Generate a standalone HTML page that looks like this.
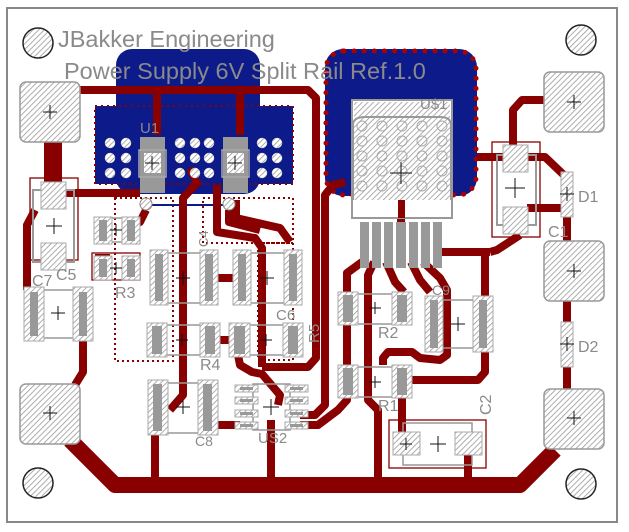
<!DOCTYPE html>
<html><head><meta charset="utf-8"><style>
html,body{margin:0;padding:0;background:#fff}
svg{display:block}
text{font-family:"Liberation Sans",sans-serif;fill:#8a8a8a}
</style></head><body>
<svg width="629" height="532" viewBox="0 0 629 532" xmlns="http://www.w3.org/2000/svg">
<defs>
<pattern id="h" width="4" height="4" patternUnits="userSpaceOnUse" patternTransform="rotate(45)">
<rect width="4" height="4" fill="#fff"/><line x1="0" y1="0" x2="0" y2="4" stroke="#999" stroke-width="1.6"/>
</pattern>
</defs>
<rect width="629" height="532" fill="#fff"/>
<rect x="7" y="8" width="610" height="514" fill="#fff" stroke="#888" stroke-width="2"/>

<g fill="#0c1a8a">
<rect x="116" y="49" width="144" height="145" rx="16"/>
<rect x="95" y="106" width="198" height="78"/>
<rect x="325" y="49" width="152" height="147" rx="18"/>
</g>
<rect x="95" y="106" width="198" height="78" fill="none" stroke="#800" stroke-width="2" stroke-dasharray="2 4"/>
<rect x="326" y="51" width="150" height="144" rx="18" fill="none" stroke="#a00" stroke-width="5" stroke-dasharray="0.1 10" stroke-linecap="round"/>

<g fill="none" stroke="#800" stroke-width="2" stroke-dasharray="2 3">
<rect x="115" y="198" width="58" height="163"/>
<rect x="203" y="198" width="90" height="45"/>
<rect x="258" y="243" width="35" height="117"/>
</g>
<line x1="150" y1="205" x2="230" y2="205" stroke="#0c1a8a" stroke-width="2"/>

<g fill="none" stroke="#800" stroke-width="8" stroke-linejoin="round">
<polyline points="80,90 308,90 316,98 316,358 308,367 262,367"/>
<line x1="157" y1="90" x2="157" y2="135"/>
<line x1="240" y1="90" x2="240" y2="135"/>
<polyline points="65,193 140,193"/>
<polyline points="35,210 27,225 27,290"/>
<polyline points="190,168 197,183 183,198 183,395 170,410"/>
<polyline points="217,185 217,232 255,238 262,248 262,367"/>
<polyline points="80,310 83,340 83,372 75,385"/>
<line x1="155" y1="435" x2="155" y2="485"/>
<line x1="271" y1="420" x2="271" y2="485"/>
<line x1="468" y1="455" x2="468" y2="485"/>
<line x1="218" y1="278" x2="233" y2="278"/>
<line x1="220" y1="340" x2="229" y2="340"/>
<polyline points="238,355 240,365 252,372 262,374 280,395 278,405"/>
<line x1="218" y1="425" x2="240" y2="425"/>
<polyline points="345,182 333,185 325,195 325,405 315,415 300,415"/>
<polyline points="362,262 347,273 347,400 338,410 318,425 300,425"/>
<polyline points="374,262 368,275 368,400 378,410 378,485"/>
<polyline points="386,262 395,282 404,292"/>
<polyline points="411,262 420,280 430,292"/>
<polyline points="423,262 440,278 447,290 447,355 440,360 420,358 412,352 388,352 383,358 383,365"/>
<polyline points="440,252 490,252"/>
<polyline points="485,252 485,372 478,380 412,380"/>
<polyline points="490,252 497,250 520,235"/>
<line x1="402" y1="398" x2="402" y2="440"/>
<polyline points="401,200 401,222"/>
<polyline points="544,100 522,100 513,110 513,145"/>
<polyline points="477,157 545,157 567,178"/>
<polyline points="527,208 565,208"/>
<line x1="567" y1="217" x2="567" y2="243"/>
<line x1="567" y1="301" x2="567" y2="389"/>
<polyline points="123,230 140,222 146,210"/>
<polyline points="95,258 110,258"/>
<polyline points="229,210 229,222 260,230"/>
<polyline points="236,200 236,218 280,228 290,242"/>
</g>
<polyline points="70,440 115,485 520,485 555,450" fill="none" stroke="#800" stroke-width="16" stroke-linejoin="round"/>
<rect x="44" y="140" width="18" height="42" fill="#800"/>

<g fill="url(#h)" stroke="#999" stroke-width="1.5">
<rect x="20" y="82" width="60" height="60" rx="6"/>
<rect x="544" y="72" width="60" height="60" rx="6"/>
<rect x="544" y="241" width="60" height="60" rx="6"/>
<rect x="544" y="389" width="60" height="60" rx="6"/>
<rect x="20" y="384" width="60" height="60" rx="6"/>
</g>
<g fill="url(#h)" stroke="#222" stroke-width="1.5">
<circle cx="38" cy="43" r="15"/><circle cx="581" cy="40" r="15"/>
<circle cx="38" cy="483" r="15"/><circle cx="581" cy="484" r="15"/>
</g>

<g fill="url(#h)" stroke="#ccc" stroke-width="0.5">
<circle cx="110" cy="143" r="5"/><circle cx="126" cy="143" r="5"/><circle cx="110" cy="158" r="5"/><circle cx="126" cy="158" r="5"/><circle cx="110" cy="173" r="5"/><circle cx="126" cy="173" r="5"/>
<circle cx="180" cy="143" r="5"/><circle cx="195" cy="143" r="5"/><circle cx="209" cy="143" r="5"/><circle cx="180" cy="158" r="5"/><circle cx="195" cy="158" r="5"/><circle cx="209" cy="158" r="5"/><circle cx="180" cy="173" r="5"/><circle cx="195" cy="173" r="5"/><circle cx="209" cy="173" r="5"/>
<circle cx="262" cy="143" r="5"/><circle cx="277" cy="143" r="5"/><circle cx="262" cy="158" r="5"/><circle cx="277" cy="158" r="5"/><circle cx="262" cy="173" r="5"/><circle cx="277" cy="173" r="5"/>
</g>
<g fill="url(#h)" stroke="#888" stroke-width="1"><circle cx="146" cy="204" r="6"/><circle cx="229" cy="204" r="6"/></g>

<g>
<rect x="140" y="137" width="25" height="56" fill="#999"/>
<rect x="139" y="150" width="27" height="27" fill="none" stroke="#aaa" stroke-width="1.5"/>
<rect x="144" y="153" width="17" height="20" fill="url(#h)"/>
<rect x="223" y="137" width="25" height="56" fill="#999"/>
<rect x="222" y="150" width="27" height="27" fill="none" stroke="#aaa" stroke-width="1.5"/>
<rect x="227" y="153" width="17" height="20" fill="url(#h)"/>
</g>

<rect x="352" y="100" width="100" height="118" fill="#fff" stroke="#999" stroke-width="2"/>
<rect x="354" y="102" width="96" height="98" fill="url(#h)"/>
<path d="M353,200 V125 Q353,117 365,117 H440 Q451,117 451,125 V200" fill="none" stroke="#999" stroke-width="2"/>
<g fill="none" stroke="#aaa" stroke-width="1">
<circle cx="362" cy="126" r="5"/><circle cx="382" cy="126" r="5"/><circle cx="402" cy="126" r="5"/><circle cx="422" cy="126" r="5"/><circle cx="442" cy="126" r="5"/>
<circle cx="362" cy="141" r="5"/><circle cx="382" cy="141" r="5"/><circle cx="402" cy="141" r="5"/><circle cx="422" cy="141" r="5"/><circle cx="442" cy="141" r="5"/>
<circle cx="362" cy="156" r="5"/><circle cx="382" cy="156" r="5"/><circle cx="402" cy="156" r="5"/><circle cx="422" cy="156" r="5"/><circle cx="442" cy="156" r="5"/>
<circle cx="362" cy="171" r="5"/><circle cx="382" cy="171" r="5"/><circle cx="402" cy="171" r="5"/><circle cx="422" cy="171" r="5"/><circle cx="442" cy="171" r="5"/>
<circle cx="362" cy="186" r="5"/><circle cx="382" cy="186" r="5"/><circle cx="402" cy="186" r="5"/><circle cx="422" cy="186" r="5"/><circle cx="442" cy="186" r="5"/>
</g>
<rect x="398" y="200" width="7" height="18" fill="#800"/>
<g fill="#999">
<rect x="360" y="222" width="9" height="46"/><rect x="372" y="222" width="9" height="46"/><rect x="384" y="222" width="9" height="46"/><rect x="396" y="222" width="10" height="46"/><rect x="409" y="222" width="9" height="46"/><rect x="421" y="222" width="9" height="46"/><rect x="433" y="222" width="9" height="46"/>
</g>

<rect x="492" y="142" width="48" height="95" fill="none" stroke="#800" stroke-width="1.3"/>
<rect x="497" y="155" width="39" height="70" fill="none" stroke="#999" stroke-width="2"/>
<g fill="url(#h)" stroke="#aaa" stroke-width="1">
<rect x="503" y="145" width="25" height="27"/><rect x="503" y="207" width="25" height="27"/>
<rect x="561" y="172" width="12" height="45"/><rect x="561" y="322" width="12" height="45"/>
</g>
<rect x="30" y="178" width="48" height="82" fill="none" stroke="#800" stroke-width="1.3"/>
<rect x="33" y="190" width="41" height="72" fill="none" stroke="#999" stroke-width="2"/>
<g fill="url(#h)" stroke="#aaa" stroke-width="1">
<rect x="41" y="182" width="25" height="27"/><rect x="41" y="243" width="25" height="27"/>
</g>
<rect x="92" y="253" width="48" height="27" fill="none" stroke="#800" stroke-width="1.3"/>

<g>
<g fill="none" stroke="#999" stroke-width="1.5">
<rect x="28" y="290" width="62" height="48"/>
<rect x="160" y="253" width="50" height="50"/>
<rect x="243" y="253" width="50" height="50"/>
<rect x="157" y="325" width="53" height="30"/>
<rect x="240" y="325" width="53" height="30"/>
<rect x="158" y="383" width="50" height="50"/>
<rect x="253" y="384" width="37" height="46"/>
<rect x="348" y="294" width="55" height="30"/>
<rect x="348" y="367" width="55" height="30"/>
<rect x="435" y="300" width="48" height="48"/>
<rect x="403" y="423" width="69" height="42"/>
<rect x="100" y="218" width="32" height="24"/>
</g>
<rect x="389" y="420" width="97" height="48" fill="none" stroke="#800" stroke-width="1.3"/>
<g fill="url(#h)" stroke="#aaa" stroke-width="1">
<rect x="24" y="287" width="20" height="54"/><rect x="73" y="287" width="20" height="54"/>
<rect x="150" y="250" width="18" height="55"/><rect x="200" y="250" width="18" height="55"/>
<rect x="233" y="250" width="18" height="55"/><rect x="284" y="250" width="18" height="55"/>
<rect x="147" y="323" width="20" height="34"/><rect x="200" y="323" width="20" height="34"/>
<rect x="229" y="323" width="21" height="34"/><rect x="283" y="323" width="20" height="34"/>
<rect x="148" y="380" width="20" height="55"/><rect x="198" y="380" width="20" height="55"/>
<rect x="338" y="292" width="20" height="33"/><rect x="392" y="292" width="20" height="33"/>
<rect x="338" y="365" width="20" height="33"/><rect x="392" y="365" width="20" height="33"/>
<rect x="425" y="296" width="18" height="56"/><rect x="473" y="296" width="20" height="56"/>
<rect x="393" y="432" width="27" height="23"/><rect x="455" y="432" width="27" height="23"/>
<rect x="94" y="217" width="18" height="27"/><rect x="122" y="217" width="18" height="27"/>
<rect x="94" y="256" width="18" height="24"/><rect x="122" y="256" width="18" height="24"/>
</g>
<g fill="#999">
<rect x="30" y="292" width="8" height="44"/><rect x="79" y="292" width="8" height="44"/>
<rect x="155" y="254" width="8" height="47"/><rect x="205" y="254" width="8" height="47"/>
<rect x="238" y="254" width="8" height="47"/><rect x="289" y="254" width="8" height="47"/>
<rect x="152" y="326" width="10" height="28"/><rect x="205" y="326" width="10" height="28"/>
<rect x="234" y="326" width="11" height="28"/><rect x="288" y="326" width="10" height="28"/>
<rect x="153" y="384" width="9" height="47"/><rect x="203" y="384" width="9" height="47"/>
<rect x="343" y="295" width="10" height="27"/><rect x="397" y="295" width="10" height="27"/>
<rect x="343" y="368" width="10" height="27"/><rect x="397" y="368" width="10" height="27"/>
<rect x="430" y="300" width="8" height="48"/><rect x="479" y="300" width="8" height="48"/>
<rect x="99" y="220" width="8" height="21"/><rect x="127" y="220" width="8" height="21"/>
<rect x="99" y="259" width="8" height="18"/><rect x="127" y="259" width="8" height="18"/>
</g>
</g>
<g fill="url(#h)" stroke="#aaa" stroke-width="1">
<rect x="235" y="385" width="23" height="7"/><rect x="235" y="397" width="23" height="7"/><rect x="235" y="410" width="23" height="7"/><rect x="235" y="422" width="23" height="7"/>
<rect x="285" y="385" width="23" height="7"/><rect x="285" y="397" width="23" height="7"/><rect x="285" y="410" width="23" height="7"/><rect x="285" y="422" width="23" height="7"/>
</g>
<g fill="#999">
<rect x="240" y="387" width="13" height="3"/><rect x="240" y="399" width="13" height="3"/><rect x="240" y="412" width="13" height="3"/><rect x="240" y="424" width="13" height="3"/>
<rect x="290" y="387" width="13" height="3"/><rect x="290" y="399" width="13" height="3"/><rect x="290" y="412" width="13" height="3"/><rect x="290" y="424" width="13" height="3"/>
</g>

<g stroke="#111" stroke-width="1">
<path d="M43,112h14M50,105v14"/><path d="M567,102h14M574,95v14"/><path d="M567,271h14M574,264v14"/><path d="M567,418h14M574,411v14"/><path d="M43,413h14M50,406v14"/>
<path d="M145,163h14M152,156v14"/><path d="M228,163h14M235,156v14"/>
<path d="M390,173h22M401,162v22"/>
<path d="M505,188h20M515,178v20"/><path d="M560,194h14M567,187v14"/><path d="M560,344h14M567,337v14"/>
<path d="M46,226h16M54,218v16"/><path d="M51,313h14M58,306v14"/>
<path d="M110,230h12M116,224v12"/><path d="M110,268h12M116,262v12"/>
<path d="M176,278h14M183,271v14"/><path d="M260,278h14M267,271v14"/>
<path d="M176,340h12M182,334v12"/><path d="M260,340h12M266,334v12"/>
<path d="M176,407h14M183,400v14"/><path d="M263,407h16M271,399v16"/>
<path d="M369,308h12M375,302v12"/><path d="M369,382h12M375,376v12"/>
<path d="M451,324h14M458,317v14"/><path d="M430,444h16M438,436v16"/><path d="M400,444h12M406,438v12"/>
</g>

<text x="58" y="47" font-size="23.5">JBakker Engineering</text>
<text x="64" y="79" font-size="23.5">Power Supply 6V Split Rail Ref.1.0</text>
<text x="140" y="133" font-size="15">U1</text>
<text x="420" y="109" font-size="15">U$1</text>
<text x="578" y="202" font-size="16">D1</text>
<text x="548" y="237" font-size="16">C1</text>
<text x="578" y="352" font-size="16">D2</text>
<text x="378" y="338" font-size="16">R2</text>
<text x="378" y="411" font-size="16">R1</text>
<text x="432" y="295" font-size="14">C9</text>
<text x="115" y="298" font-size="16">R3</text>
<text x="32" y="286" font-size="16">C7</text>
<text x="56" y="280" font-size="16">C5</text>
<text x="276" y="320" font-size="15">C6</text>
<text x="200" y="370" font-size="16">R4</text>
<text x="195" y="446" font-size="14">C8</text>
<text x="258" y="443" font-size="15">US2</text>
<text x="0" y="0" font-size="16" transform="translate(491,415) rotate(-90)">C2</text>
<text x="0" y="0" font-size="15" transform="translate(319,343) rotate(-90)">R5</text>
<text x="0" y="0" font-size="13" transform="translate(208,247) rotate(-90)">C4</text>
</svg>
</body></html>
